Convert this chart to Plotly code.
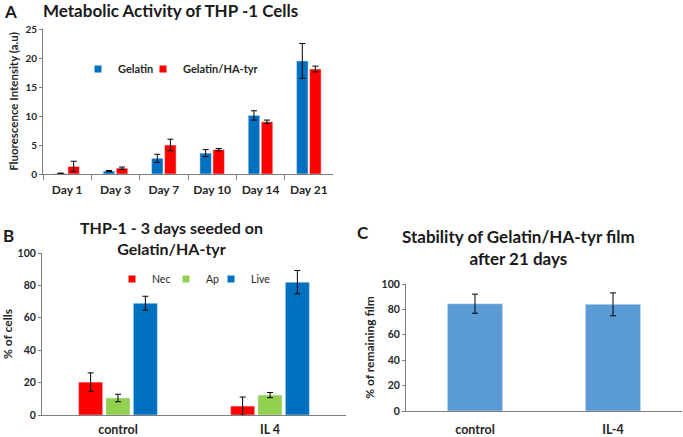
import plotly.graph_objects as go

# ---------------- data ----------------
days = ["Day 1", "Day 3", "Day 7", "Day 10", "Day 14", "Day 21"]
gelatin = [0.1, 0.5, 2.7, 3.6, 10.1, 19.5]
gelatin_err = [0.05, 0.1, 0.7, 0.6, 0.8, 3.0]
gel_ha = [1.3, 1.0, 5.0, 4.2, 9.0, 18.1]
gel_ha_err = [0.9, 0.2, 1.0, 0.2, 0.3, 0.5]

groups_b = ["control", "IL 4"]
nec = [20.3, 5.5]
nec_err = [5.7, 5.6]
ap = [10.5, 12.3]
ap_err = [2.3, 1.6]
live = [69.0, 82.0]
live_err = [4.3, 7.2]

groups_c = ["control", "IL-4"]
film = [84.5, 84.0]
film_err = [7.5, 9.0]

FONT = "Lato"
W, H = 683, 437
BLUE = "#0070C0"
RED = "#FF0000"
GREEN = "#92D050"
LBLUE = "#5B9BD5"
AXC = "#7F7F7F"
TXT = "#262626"


def px_x(v):
    return v / W


def px_y(v):
    return 1 - v / H


fig = go.Figure()
err = dict(type="data", color="black", thickness=1, width=3)

# Panel A
fig.add_trace(go.Bar(x=days, y=gelatin, marker_color=BLUE, name="Gelatin",
                     error_y=dict(array=gelatin_err, **err), xaxis="x", yaxis="y",
                     offsetgroup="a1", showlegend=False))
fig.add_trace(go.Bar(x=days, y=gel_ha, marker_color=RED, name="Gelatin/HA-tyr",
                     error_y=dict(array=gel_ha_err, **err), xaxis="x", yaxis="y",
                     offsetgroup="a2", showlegend=False))

legend_items = [
    ("Gelatin", BLUE, "x", "y", "legend", 78, 69, True),
    ("Gelatin/HA-tyr", RED, "x", "y", "legend2", 143, 69, True),
    ("Nec", RED, "x2", "y2", "legend3", 112, 279, False),
    ("Ap", GREEN, "x2", "y2", "legend4", 166, 279, False),
    ("Live", BLUE, "x2", "y2", "legend5", 211, 279, False),
]

# Panel B
for nm, vals, errs, col, og in [("Nec", nec, nec_err, RED, "b1"),
                                ("Ap", ap, ap_err, GREEN, "b2"),
                                ("Live", live, live_err, BLUE, "b3")]:
    fig.add_trace(go.Bar(x=groups_b, y=vals, marker_color=col, name=nm,
                         error_y=dict(array=errs, **err), xaxis="x2", yaxis="y2",
                         offsetgroup=og, showlegend=False))

# Panel C
fig.add_trace(go.Bar(x=groups_c, y=film, marker_color=LBLUE, name="film",
                     error_y=dict(array=film_err, **err), xaxis="x3", yaxis="y3",
                     showlegend=False, width=0.4))

legend_layout = {}
for nm, col, xa, ya, lg, lx, ly, bold in legend_items:
    fig.add_trace(go.Scatter(x=[None], y=[None], mode="markers", name=nm,
                             marker=dict(symbol="square", size=7, color=col),
                             xaxis=xa, yaxis=ya, legend=lg, showlegend=True))
    legend_layout[lg] = dict(
        orientation="h", x=px_x(lx), y=px_y(ly), xanchor="left", yanchor="middle",
        font=dict(family=FONT, size=11 if bold else 10.5, color=TXT,
                  weight="bold" if bold else "normal"),
        bgcolor="rgba(0,0,0,0)", itemclick=False, itemdoubleclick=False)


def yax(domain, rng, dtick, anchor, title, tsize=12, fsize=10.5):
    return dict(domain=domain, range=rng, dtick=dtick, anchor=anchor, automargin=False,
                showline=True, linecolor=AXC, linewidth=1, ticks="outside",
                ticklen=3, tickcolor=AXC, showgrid=False, zeroline=False,
                tickfont=dict(family=FONT, size=fsize, color=TXT, weight="bold"),
                fixedrange=True,
                title=dict(text=title, font=dict(family=FONT, size=tsize, color=TXT, weight="bold"),
                           standoff=4))


def xax(domain, anchor, ticks, fsize=12, standoff=0):
    d = dict(domain=domain, anchor=anchor, showline=True, linecolor=AXC, linewidth=1,
             automargin=False, showgrid=False, zeroline=False, fixedrange=True,
             ticklabelstandoff=standoff,
             tickfont=dict(family=FONT, size=fsize, color=TXT, weight="bold"))
    if ticks:
        d.update(ticks="outside", tickson="boundaries", ticklen=5, tickcolor=AXC)
    else:
        d.update(ticks="")
    return d


fig.update_layout(
    width=W, height=H, margin=dict(l=0, r=0, t=0, b=0, autoexpand=False),
    paper_bgcolor="white", plot_bgcolor="white",
    barmode="group", bargap=0.46, bargroupgap=0.12,
    xaxis=xax([px_x(43), px_x(333)], "y", True, 12, 5),
    yaxis=yax([px_y(174), px_y(29)], [0, 25], 5, "x", "Fluorescence Intensity (a.u)", 11.5, 10),
    xaxis2=xax([px_x(42), px_x(346)], "y2", False, 12.5, 3),
    yaxis2=yax([px_y(415), px_y(253)], [0, 100], 20, "x2", "% of cells"),
    xaxis3=xax([px_x(406), px_x(682)], "y3", False, 12.5, 7),
    yaxis3=yax([px_y(411), px_y(284)], [0, 100], 20, "x3", "% of remaining film"),
    showlegend=True,
    **legend_layout,
)

ann = [
    dict(text="A", x=px_x(2), y=px_y(11), font=dict(size=17)),
    dict(text="Metabolic Activity of THP -1 Cells", x=px_x(170), y=px_y(10), xanchor="center", font=dict(size=17)),
    dict(text="B", x=px_x(1), y=px_y(235), font=dict(size=17)),
    dict(text="THP-1 - 3 days seeded on<br>Gelatin/HA-tyr", x=px_x(171), y=px_y(238), xanchor="center", font=dict(size=16)),
    dict(text="C", x=px_x(355), y=px_y(233), font=dict(size=17)),
    dict(text="Stability of Gelatin/HA-tyr film<br>after 21 days", x=px_x(518), y=px_y(248), xanchor="center", font=dict(size=17)),
]
for a in ann:
    a.setdefault("xanchor", "left")
    a["font"].update(family=FONT, color="#1a1a1a", weight="bold")
    fig.add_annotation(xref="paper", yref="paper", yanchor="middle", showarrow=False, **a)

fig.write_html("out.html", config={"displayModeBar": False},
               post_script="document.body.style.margin='0px';document.body.style.overflow='hidden';")
